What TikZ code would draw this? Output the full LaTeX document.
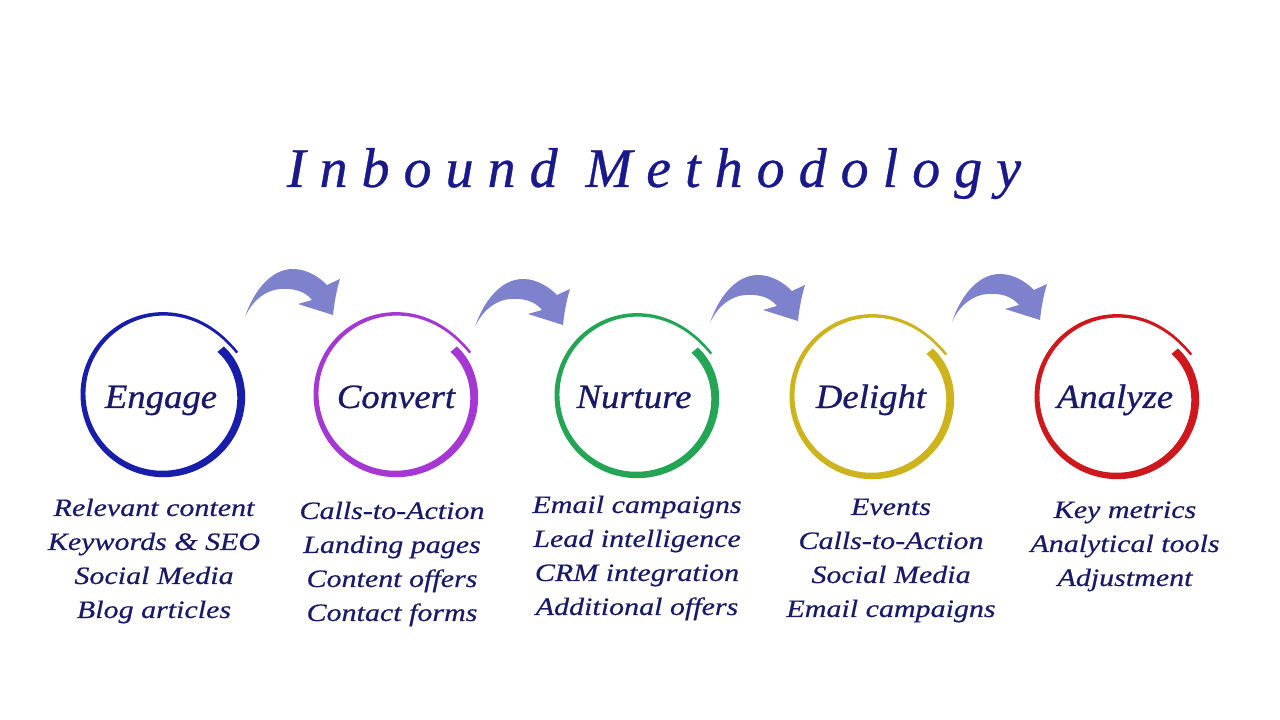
\documentclass[tikz,border=0pt]{standalone}
\usepackage{fontspec}
\setmainfont{Liberation Serif}
\newfontfamily\listfont{Liberation Serif Italic}[FakeStretch=1.2,FakeBold=0.5]
\newfontfamily\labfont{Liberation Serif Italic}[FakeStretch=1.08,FakeBold=0.7]
\newfontfamily\ttlfont{Liberation Serif Italic}[LetterSpace=25,FakeBold=0.6]
\definecolor{titlecol}{RGB}{25,25,140}
\definecolor{textcol}{RGB}{25,25,105}
\definecolor{arrowcol}{RGB}{126,130,204}
\definecolor{engcol}{RGB}{25,30,170}
\definecolor{convcol}{RGB}{165,55,210}
\definecolor{nurcol}{RGB}{35,165,85}
\definecolor{delcol}{RGB}{205,180,30}
\definecolor{anacol}{RGB}{205,25,30}
\tikzset{
  declare function={ringr(\t)=80-7*(1-\t)^12+5*\t^20; ringw(\t)=8.5-6*\t; ringa(\t)=38-369*\t;},
  listtext/.style={font=\listfont\fontsize{25}{34}\selectfont, text=textcol, anchor=base, inner sep=0pt},
  ringlabel/.style={font=\labfont\fontsize{34}{40}\selectfont, text=textcol, anchor=base, inner sep=0pt},
  titletext/.style={font=\ttlfont\fontsize{56}{60}\selectfont, text=titlecol, anchor=base, inner sep=0pt},
  arrowshape/.style={fill=arrowcol, draw=none}
}
\newcommand\inring[4]{%
  \coordinate (#4) at (#1,#2);
  \fill[#3] plot[domain=0:1,samples=220,variable=\t,smooth]
    ({#1+(ringr(\t)+ringw(\t)/2)*cos(ringa(\t))},{#2+(ringr(\t)+ringw(\t)/2)*sin(ringa(\t))})
    -- plot[domain=1:0,samples=220,variable=\t,smooth]
    ({#1+(ringr(\t)-ringw(\t)/2)*cos(ringa(\t))},{#2+(ringr(\t)-ringw(\t)/2)*sin(ringa(\t))})
    -- cycle;}
\newcommand\bentarrow[1]{%
  \fill[arrowshape, shift={(#1)}] (0,0) .. controls (7,22) and (24,48) .. (48,48)
    .. controls (62,48) and (74,40) .. (82,32) -- (95,38)
    .. controls (91,25) and (89,12) .. (88,2) -- (53,13) -- (67,17)
    .. controls (60,26) and (48,29) .. (35,28)
    .. controls (22,27) and (8,18) .. (0,0) -- cycle;}
\newcommand\itemlist[4]{%
  \foreach \ln [count=\i] in {#4} {\node[listtext] (#1\i) at (#2,{#3-34*(\i-1)}) {\ln};}}
\begin{document}
\begin{tikzpicture}[x=1pt,y=1pt]
\useasboundingbox (0,0) rectangle (1280,720);
\fill[white] (0,0) rectangle (1280,720);
% title
\node[titletext] (title) at (654,533) {Inbound Methodology};
% rings
\inring{163}{326}{engcol}{engage}
\inring{396}{326}{convcol}{convert}
\inring{637}{325}{nurcol}{nurture}
\inring{872}{324}{delcol}{delight}
\inring{1117}{324}{anacol}{analyze}
% ring labels
\node[ringlabel] (engagelab) at (161,312) {Engage};
\node[ringlabel] (convertlab) at (396,312) {Convert};
\node[ringlabel] (nurturelab) at (634,312) {Nurture};
\node[ringlabel] (delightlab) at (871,312) {Delight};
\node[ringlabel] (analyzelab) at (1115,312) {Analyze};
% arrows
\bentarrow{245,403}
\bentarrow{475,393}
\bentarrow{710,397}
\bentarrow{952,398}
% lists
\itemlist{eng}{154}{204}{Relevant content,Keywords \& SEO,Social Media,Blog articles}
\itemlist{conv}{392}{201}{Calls-to-Action,Landing pages,Content offers,Contact forms}
\itemlist{nur}{637}{207}{Email campaigns,Lead intelligence,CRM integration,Additional offers}
\itemlist{del}{891}{205}{Events,Calls-to-Action,Social Media,Email campaigns}
\itemlist{ana}{1125}{202}{Key metrics,Analytical tools,Adjustment}
\end{tikzpicture}
\end{document}
